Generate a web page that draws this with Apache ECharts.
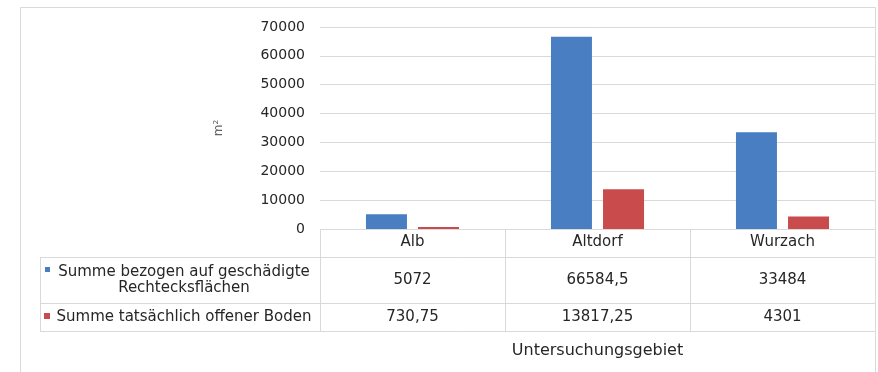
<!DOCTYPE html>
<html>
<head>
<meta charset="utf-8">
<script src="https://cdn.jsdelivr.net/npm/echarts@6/dist/echarts.min.js"></script>
<style>
  html, body { margin: 0; padding: 0; background: #ffffff; }
  #chart { width: 878px; height: 372px; }
</style>
</head>
<body>
<div id="chart"></div>
<script>
// Untersuchungsgebiete und Flächensummen (m²)
const categories = ['Alb', 'Altdorf', 'Wurzach'];
const seriesNames = [
  'Summe bezogen auf geschädigte\nRechtecksflächen',
  'Summe tatsächlich offener Boden'
];
const summeRechtecksflaechen = [5072, 66584.5, 33484];
const summeOffenerBoden = [730.75, 13817.25, 4301];
const yTicks = [0, 10000, 20000, 30000, 40000, 50000, 60000, 70000];

const colors = ['#4A7EC2', '#C94B4B'];
const textColor = '#262626';
const lineColor = '#d9d9d9';
const font = 'DejaVu Sans';

// German decimal comma for the data table
const fmt = v => String(v).replace('.', ',');

const gridLeft = 320, gridTop = 27, gridWidth = 555, gridHeight = 202;
const tableLeft = 40;
const rowBottoms = [257, 303, 331];

const chart = echarts.init(document.getElementById('chart'), null, { renderer: 'canvas' });

const hiddenAxis = {
  axisLine: { show: false },
  axisTick: { show: false },
  splitLine: { show: false }
};

chart.setOption({
  animation: false,
  backgroundColor: '#ffffff',
  grid: { left: gridLeft, top: gridTop, width: gridWidth, height: gridHeight },
  xAxis: [
    Object.assign({
      type: 'category', data: categories, gridIndex: 0,
      axisLabel: { color: textColor, fontFamily: font, fontSize: 15, margin: 6 }
    }, hiddenAxis),
    Object.assign({
      type: 'category', data: summeRechtecksflaechen.map(fmt), gridIndex: 0,
      position: 'bottom', offset: 44,
      axisLabel: { color: textColor, fontFamily: font, fontSize: 15, margin: 0 }
    }, hiddenAxis),
    Object.assign({
      type: 'category', data: summeOffenerBoden.map(fmt), gridIndex: 0,
      position: 'bottom', offset: 81, name: 'Untersuchungsgebiet',
      nameLocation: 'middle', nameGap: 33,
      nameTextStyle: { color: textColor, fontFamily: font, fontSize: 16 },
      axisLabel: { color: textColor, fontFamily: font, fontSize: 15, margin: 0 }
    }, hiddenAxis)
  ],
  yAxis: {
    type: 'value', min: 0, max: yTicks[yTicks.length - 1], interval: yTicks[1] - yTicks[0],
    name: 'm²', nameLocation: 'middle', nameGap: 95, nameRotate: 90,
    nameTextStyle: { color: '#666', fontFamily: font, fontSize: 12 },
    axisLine: { show: false },
    axisTick: { show: false },
    axisLabel: { color: textColor, fontFamily: font, fontSize: 14, margin: 15,
      formatter: v => String(v) },
    splitLine: { lineStyle: { color: lineColor, width: 1 } }
  },
  series: [
    {
      name: seriesNames[0], type: 'bar', data: summeRechtecksflaechen,
      barWidth: 41, barGap: '27%', itemStyle: { color: colors[0] }
    },
    {
      name: seriesNames[1], type: 'bar', data: summeOffenerBoden,
      barWidth: 41, barGap: '27%', itemStyle: { color: colors[1] }
    }
  ]
});

// Data table frame and legend keys
const yZero = chart.convertToPixel({ yAxisIndex: 0 }, 0);
const right = gridLeft + gridWidth;
const bandW = gridWidth / categories.length;
const elements = [];

// outer chart frame
elements.push({ type: 'rect', shape: { x: 20.5, y: 7.5, width: 855, height: 380 },
  style: { fill: null, stroke: lineColor, lineWidth: 1 }, silent: true, z: -1 });

// table top line under the plot
elements.push({ type: 'line', shape: { x1: gridLeft, y1: yZero + 0.5, x2: right, y2: yZero + 0.5 },
  style: { stroke: lineColor, lineWidth: 1 } });
// horizontal row lines
rowBottoms.forEach(y => {
  elements.push({ type: 'line', shape: { x1: tableLeft, y1: y + 0.5, x2: right, y2: y + 0.5 },
    style: { stroke: lineColor, lineWidth: 1 } });
});
// vertical column lines
for (let i = 0; i <= categories.length; i++) {
  const x = Math.round(gridLeft + bandW * i) + 0.5;
  elements.push({ type: 'line', shape: { x1: x, y1: yZero, x2: x, y2: rowBottoms[2] + 1 },
    style: { stroke: lineColor, lineWidth: 1 } });
}
elements.push({ type: 'line', shape: { x1: tableLeft + 0.5, y1: rowBottoms[0], x2: tableLeft + 0.5, y2: rowBottoms[2] + 1 },
  style: { stroke: lineColor, lineWidth: 1 } });

// legend cells
const rowCenters = [(rowBottoms[0] + rowBottoms[1]) / 2, (rowBottoms[1] + rowBottoms[2]) / 2];
const legendCenterX = 184;
seriesNames.forEach((name, i) => {
  elements.push({
    type: 'text', x: legendCenterX, y: rowCenters[i],
    style: { text: name, fill: textColor, font: '15px "' + font + '"', align: 'center',
      verticalAlign: 'middle', lineHeight: 16 }
  });
});
elements.push({ type: 'rect', shape: { x: 45, y: 267, width: 5, height: 5 }, style: { fill: colors[0] } });
elements.push({ type: 'rect', shape: { x: 44, y: 313, width: 6, height: 6 }, style: { fill: colors[1] } });

chart.setOption({ graphic: { elements: elements } });
</script>
</body>
</html>
